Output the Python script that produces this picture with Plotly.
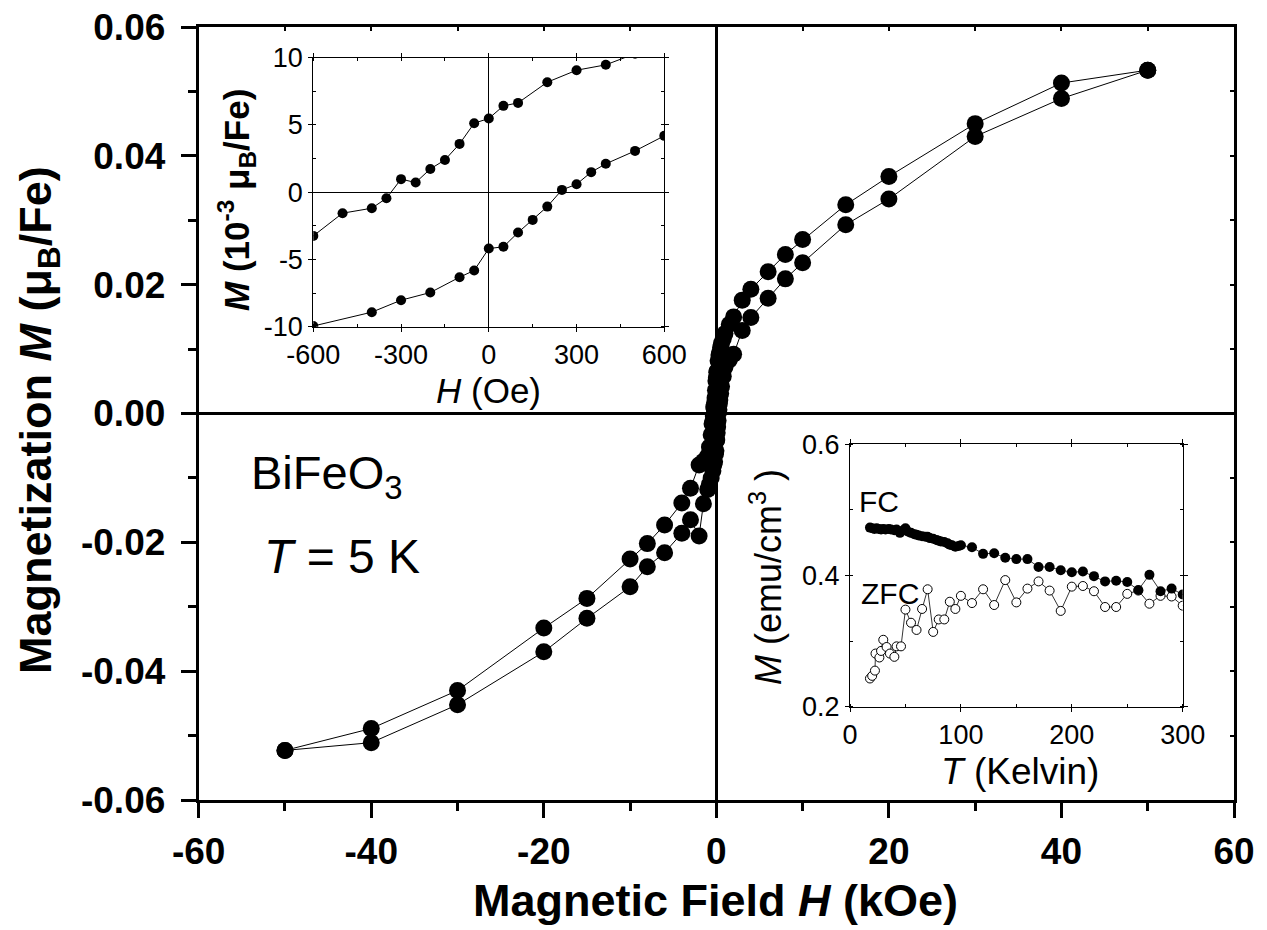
import plotly.graph_objects as go

W, H = 1267, 930
FONT = "Arial, Liberation Sans, sans-serif"

# ---------------- main hysteresis loop (T = 5 K) ----------------
# field in kOe, magnetization in mu_B/Fe
H_desc = [50, 40, 30, 20, 15, 10, 8, 6, 4, 3, 2, 1.5, 1, 0.8, 0.6, 0.5, 0.4, 0.3, 0.2,
          0.1, 0.05, 0, -0.05, -0.1, -0.15, -0.2, -0.25, -0.3, -0.35, -0.4, -0.5, -0.6,
          -0.8, -1, -1.5, -2, -3, -4, -6, -8, -10, -15, -20, -30, -40, -50]
M_desc = [0.0533, 0.0513, 0.0450, 0.0368, 0.0324, 0.0270, 0.0247, 0.0220, 0.0193, 0.0176,
          0.0150, 0.0138, 0.0124, 0.0116, 0.0109, 0.0103, 0.0095, 0.0091, 0.0082, 0.0066,
          0.0064, 0.0055, 0.0051, 0.0036, 0.0024, 0.0017, 0.0007, 0.0010, -0.0004, -0.0012,
          -0.0016, -0.0033, -0.0052, -0.0066, -0.0074, -0.0080, -0.0116, -0.0139, -0.0173,
          -0.0202, -0.0226, -0.0287, -0.0333, -0.0430, -0.0489, -0.0523]

H_asc = [-50, -40, -30, -20, -15, -10, -8, -6, -4, -3, -2, -1.5, -1, -0.8, -0.6, -0.4,
         -0.3, -0.2, -0.1, -0.05, 0, 0.05, 0.1, 0.15, 0.2, 0.25, 0.3, 0.35, 0.4, 0.5, 0.6,
         0.8, 1, 1.5, 2, 3, 4, 6, 8, 10, 15, 20, 30, 40, 50]
M_asc = [-0.0523, -0.0511, -0.0452, -0.0370, -0.0318, -0.0269, -0.0238, -0.0216, -0.0186,
         -0.0165, -0.0190, -0.0140, -0.0118, -0.0110, -0.0100, -0.0089, -0.0080, -0.0075,
         -0.0063, -0.0058, -0.0042, -0.0041, -0.0030, -0.0021, -0.0011, 0.0002, 0.0006,
         0.0015, 0.0021, 0.0031, 0.0042, 0.0058, 0.0072, 0.0083, 0.0092, 0.0129, 0.0149,
         0.0179, 0.0209, 0.0234, 0.0293, 0.0333, 0.0430, 0.0489, 0.0533]

main_xticks = [-60, -40, -20, 0, 20, 40, 60]
main_xtext = ["-60", "-40", "-20", "0", "20", "40", "60"]
main_yticks = [-0.06, -0.04, -0.02, 0.0, 0.02, 0.04, 0.06]
main_ytext = ["-0.06", "-0.04", "-0.02", "0.00", "0.02", "0.04", "0.06"]

# ---------------- low-field inset (Oe, 1e-3 mu_B/Fe) ----------------
Hin_desc = [500, 400, 300, 200, 100, 50, 0, -50, -100, -150, -200, -250, -300, -350,
            -400, -500, -600]
Min_desc = [10.3, 9.47, 9.07, 8.18, 6.64, 6.42, 5.48, 5.13, 3.59, 2.40, 1.73, 0.72, 0.97,
            -0.45, -1.19, -1.56, -3.25]
Hin_asc = [-600, -400, -300, -200, -100, -50, 0, 50, 100, 150, 200, 250, 300, 350, 400,
           500, 600]
Min_asc = [-9.95, -8.92, -8.03, -7.46, -6.32, -5.82, -4.19, -4.06, -3.00, -2.06, -1.07,
           0.17, 0.59, 1.49, 2.11, 3.07, 4.19]
in1_xticks = [-600, -300, 0, 300, 600]
in1_xtext = ["-600", "-300", "0", "300", "600"]
in1_yticks = [-10, -5, 0, 5, 10]
in1_ytext = ["-10", "-5", "0", "5", "10"]

# ---------------- temperature inset (K, emu/cm^3) ----------------
T_fc = [18, 20, 22, 24, 26, 28, 30, 32, 35, 37, 40, 42, 45, 48, 50, 52, 55, 58, 60, 62,
        65, 68, 70, 72, 75, 78, 80, 82, 85, 88, 90, 92, 95, 98, 100, 110, 120, 130, 140,
        150, 160, 170, 180, 190, 200, 210, 220, 230, 240, 250, 260, 270, 280, 290, 300]
M_fc = [0.473, 0.472, 0.471, 0.472, 0.471, 0.470, 0.471, 0.470, 0.471, 0.470, 0.469,
        0.470, 0.465, 0.469, 0.472, 0.467, 0.465, 0.463, 0.462, 0.461, 0.460, 0.459,
        0.459, 0.457, 0.456, 0.454, 0.453, 0.452, 0.451, 0.449, 0.447, 0.446, 0.444,
        0.445, 0.446, 0.443, 0.433, 0.434, 0.427, 0.425, 0.425, 0.413, 0.413, 0.408,
        0.405, 0.406, 0.399, 0.391, 0.392, 0.390, 0.378, 0.401, 0.376, 0.380, 0.371]
T_zfc = [18, 20, 22.5, 23, 26.5, 28, 30, 33, 36, 40, 42, 46, 50, 55, 60, 65, 70, 75, 80,
         85, 90, 95, 100, 110, 120, 130, 140, 150, 160, 170, 180, 190, 200, 210, 220,
         230, 240, 250, 260, 270, 280, 290, 300]
M_zfc = [0.243, 0.247, 0.255, 0.281, 0.275, 0.285, 0.302, 0.291, 0.281, 0.276, 0.292,
         0.292, 0.348, 0.328, 0.317, 0.349, 0.379, 0.314, 0.333, 0.333, 0.360, 0.349,
         0.369, 0.358, 0.379, 0.355, 0.393, 0.359, 0.380, 0.391, 0.377, 0.346, 0.383,
         0.384, 0.376, 0.352, 0.352, 0.372, 0.377, 0.357, 0.369, 0.368, 0.354]
in2_xticks = [0, 100, 200, 300]
in2_xtext = ["0", "100", "200", "300"]
in2_yticks = [0.2, 0.4, 0.6]
in2_ytext = ["0.2", "0.4", "0.6"]


def px(x):
    return x / W


def py(y):
    return 1 - y / H


fig = go.Figure()

# main loop branches
for hx, my in ((H_desc, M_desc), (H_asc, M_asc)):
    fig.add_trace(go.Scatter(
        x=hx, y=my, mode="lines+markers", xaxis="x", yaxis="y",
        line=dict(color="black", width=1),
        marker=dict(color="black", size=17, line=dict(width=0)),
        showlegend=False, cliponaxis=True))

# inset 1 branches
for hx, my in ((Hin_desc, Min_desc), (Hin_asc, Min_asc)):
    fig.add_trace(go.Scatter(
        x=hx, y=my, mode="lines+markers", xaxis="x2", yaxis="y2",
        line=dict(color="black", width=1),
        marker=dict(color="black", size=10, line=dict(width=0)),
        showlegend=False, cliponaxis=True))

# inset 2: ZFC (open) then FC (filled)
fig.add_trace(go.Scatter(
    x=T_zfc, y=M_zfc, mode="lines+markers", xaxis="x3", yaxis="y3",
    line=dict(color="black", width=0.8),
    marker=dict(color="white", size=9, line=dict(color="black", width=1)),
    showlegend=False))
fig.add_trace(go.Scatter(
    x=T_fc, y=M_fc, mode="lines+markers", xaxis="x3", yaxis="y3",
    line=dict(color="black", width=0.8),
    marker=dict(color="black", size=10, line=dict(width=0)),
    showlegend=False))

# invisible point so the frame-tick helper axes get drawn
fig.add_trace(go.Scatter(x=[0], y=[0], xaxis="x4", yaxis="y4", mode="markers",
                         marker=dict(opacity=0), showlegend=False, hoverinfo="skip"))

bold_tick = dict(family=FONT, size=37, color="black", weight="bold")
thin_tick = dict(family=FONT, size=27, color="black")

main_dom_x = [px(198.7), px(1234)]
main_dom_y = [py(800), py(27)]

fig.update_layout(
    template="none",
    width=W, height=H,
    margin=dict(l=0, r=0, t=0, b=0, pad=0, autoexpand=False),
    paper_bgcolor="white", plot_bgcolor="rgba(0,0,0,0)",
    showlegend=False,
    xaxis=dict(
        domain=main_dom_x, anchor="y", range=[-60, 60], automargin=False,
        tickmode="array", tickvals=main_xticks, ticktext=main_xtext,
        ticks="outside", ticklen=15, tickwidth=3, tickcolor="black",
        minor=dict(dtick=10, tick0=0, ticks="outside", ticklen=8, tickwidth=3,
                   tickcolor="black", showgrid=False),
        showline=True, linewidth=3, linecolor="black", mirror=True,
        zeroline=True, zerolinewidth=3, zerolinecolor="black",
        showgrid=False, tickfont=bold_tick, ticklabelstandoff=2),
    yaxis=dict(
        domain=main_dom_y, anchor="x", range=[-0.06, 0.06], automargin=False,
        tickmode="array", tickvals=main_yticks, ticktext=main_ytext,
        ticks="outside", ticklen=15, tickwidth=3, tickcolor="black",
        minor=dict(dtick=0.01, tick0=0, ticks="outside", ticklen=8, tickwidth=3,
                   tickcolor="black", showgrid=False),
        showline=True, linewidth=3, linecolor="black", mirror=True,
        zeroline=True, zerolinewidth=3, zerolinecolor="black",
        showgrid=False, tickfont=bold_tick, ticklabelstandoff=8),
    # short inward ticks along the right and top frame
    xaxis4=dict(
        domain=main_dom_x, anchor="y4", overlaying="x", side="top", range=[-60, 60],
        automargin=False,
        tickmode="linear", tick0=0, dtick=10, ticks="inside", ticklen=4, tickwidth=2,
        tickcolor="black", showticklabels=False, showline=False, showgrid=False,
        zeroline=False),
    yaxis4=dict(
        domain=main_dom_y, anchor="x4", overlaying="y", side="right", range=[-0.06, 0.06],
        automargin=False,
        tickmode="linear", tick0=0, dtick=0.01, ticks="inside", ticklen=4, tickwidth=2,
        tickcolor="black", showticklabels=False, showline=False, showgrid=False,
        zeroline=False),
    xaxis2=dict(
        domain=[px(313.3), px(664.3)], anchor="y2", range=[-600, 600], automargin=False,
        tickmode="array", tickvals=in1_xticks, ticktext=in1_xtext,
        ticks="outside", ticklen=4, tickwidth=1, tickcolor="black",
        minor=dict(dtick=150, tick0=0, ticks="inside", ticklen=3, tickwidth=1,
                   tickcolor="black", showgrid=False),
        showline=True, linewidth=1, linecolor="black", mirror="ticks",
        zeroline=True, zerolinewidth=1, zerolinecolor="black",
        showgrid=False, tickfont=thin_tick, ticklabelstandoff=0),
    yaxis2=dict(
        domain=[py(326.7), py(57.7)], anchor="x2", range=[-10, 10], automargin=False,
        tickmode="array", tickvals=in1_yticks, ticktext=in1_ytext,
        ticks="outside", ticklen=4, tickwidth=1, tickcolor="black",
        minor=dict(dtick=2.5, tick0=0, ticks="inside", ticklen=3, tickwidth=1,
                   tickcolor="black", showgrid=False),
        showline=True, linewidth=1, linecolor="black", mirror="ticks",
        zeroline=True, zerolinewidth=1, zerolinecolor="black",
        showgrid=False, tickfont=thin_tick, ticklabelstandoff=0),
    xaxis3=dict(
        domain=[px(850), px(1182.7)], anchor="y3", range=[0, 300], automargin=False,
        tickmode="array", tickvals=in2_xticks, ticktext=in2_xtext,
        ticks="outside", ticklen=4, tickwidth=1, tickcolor="black",
        minor=dict(dtick=50, tick0=0, ticks="inside", ticklen=3, tickwidth=1,
                   tickcolor="black", showgrid=False),
        showline=True, linewidth=1, linecolor="black", mirror="ticks",
        zeroline=False, showgrid=False, tickfont=thin_tick, ticklabelstandoff=0),
    yaxis3=dict(
        domain=[py(706.7), py(444.3)], anchor="x3", range=[0.2, 0.6], automargin=False,
        tickmode="array", tickvals=in2_yticks, ticktext=in2_ytext,
        ticks="outside", ticklen=4, tickwidth=1, tickcolor="black",
        minor=dict(dtick=0.1, tick0=0.2, ticks="inside", ticklen=3, tickwidth=1,
                   tickcolor="black", showgrid=False),
        showline=True, linewidth=1, linecolor="black", mirror="ticks",
        zeroline=False, showgrid=False, tickfont=thin_tick, ticklabelstandoff=0),
)


def label(text, x, y, size, bold=False, angle=0, xanchor="center", yanchor="middle"):
    fig.add_annotation(
        text=text, x=px(x), y=py(y), xref="paper", yref="paper",
        xanchor=xanchor, yanchor=yanchor, showarrow=False, textangle=angle,
        font=dict(family=FONT, size=size, color="black", weight="bold" if bold else "normal"))


label("Magnetic Field <i>H</i> (kOe)", 716, 900, 45, bold=True)
label("Magnetization <i>M</i> (μ<sub>B</sub>/Fe)", 38, 420, 45, bold=True, angle=-90)
label("<i>M</i> (10<sup>-3</sup> μ<sub>B</sub>/Fe)", 236, 200, 35, bold=True, angle=-90)
label("<i>H</i> (Oe)", 488.5, 390, 35)
label("<i>T</i> (Kelvin)", 1020, 771, 37)
label("<i>M</i> (emu/cm<sup>3</sup> )", 766, 577, 36, angle=-90)
label("FC", 857, 501, 30, xanchor="left")
label("ZFC", 859, 593, 30, xanchor="left")
label("BiFeO<sub>3</sub>", 249, 476, 47, xanchor="left")
label("<i>T</i> = 5 K", 262, 556, 48, xanchor="left")

fig.write_html("out.html")
